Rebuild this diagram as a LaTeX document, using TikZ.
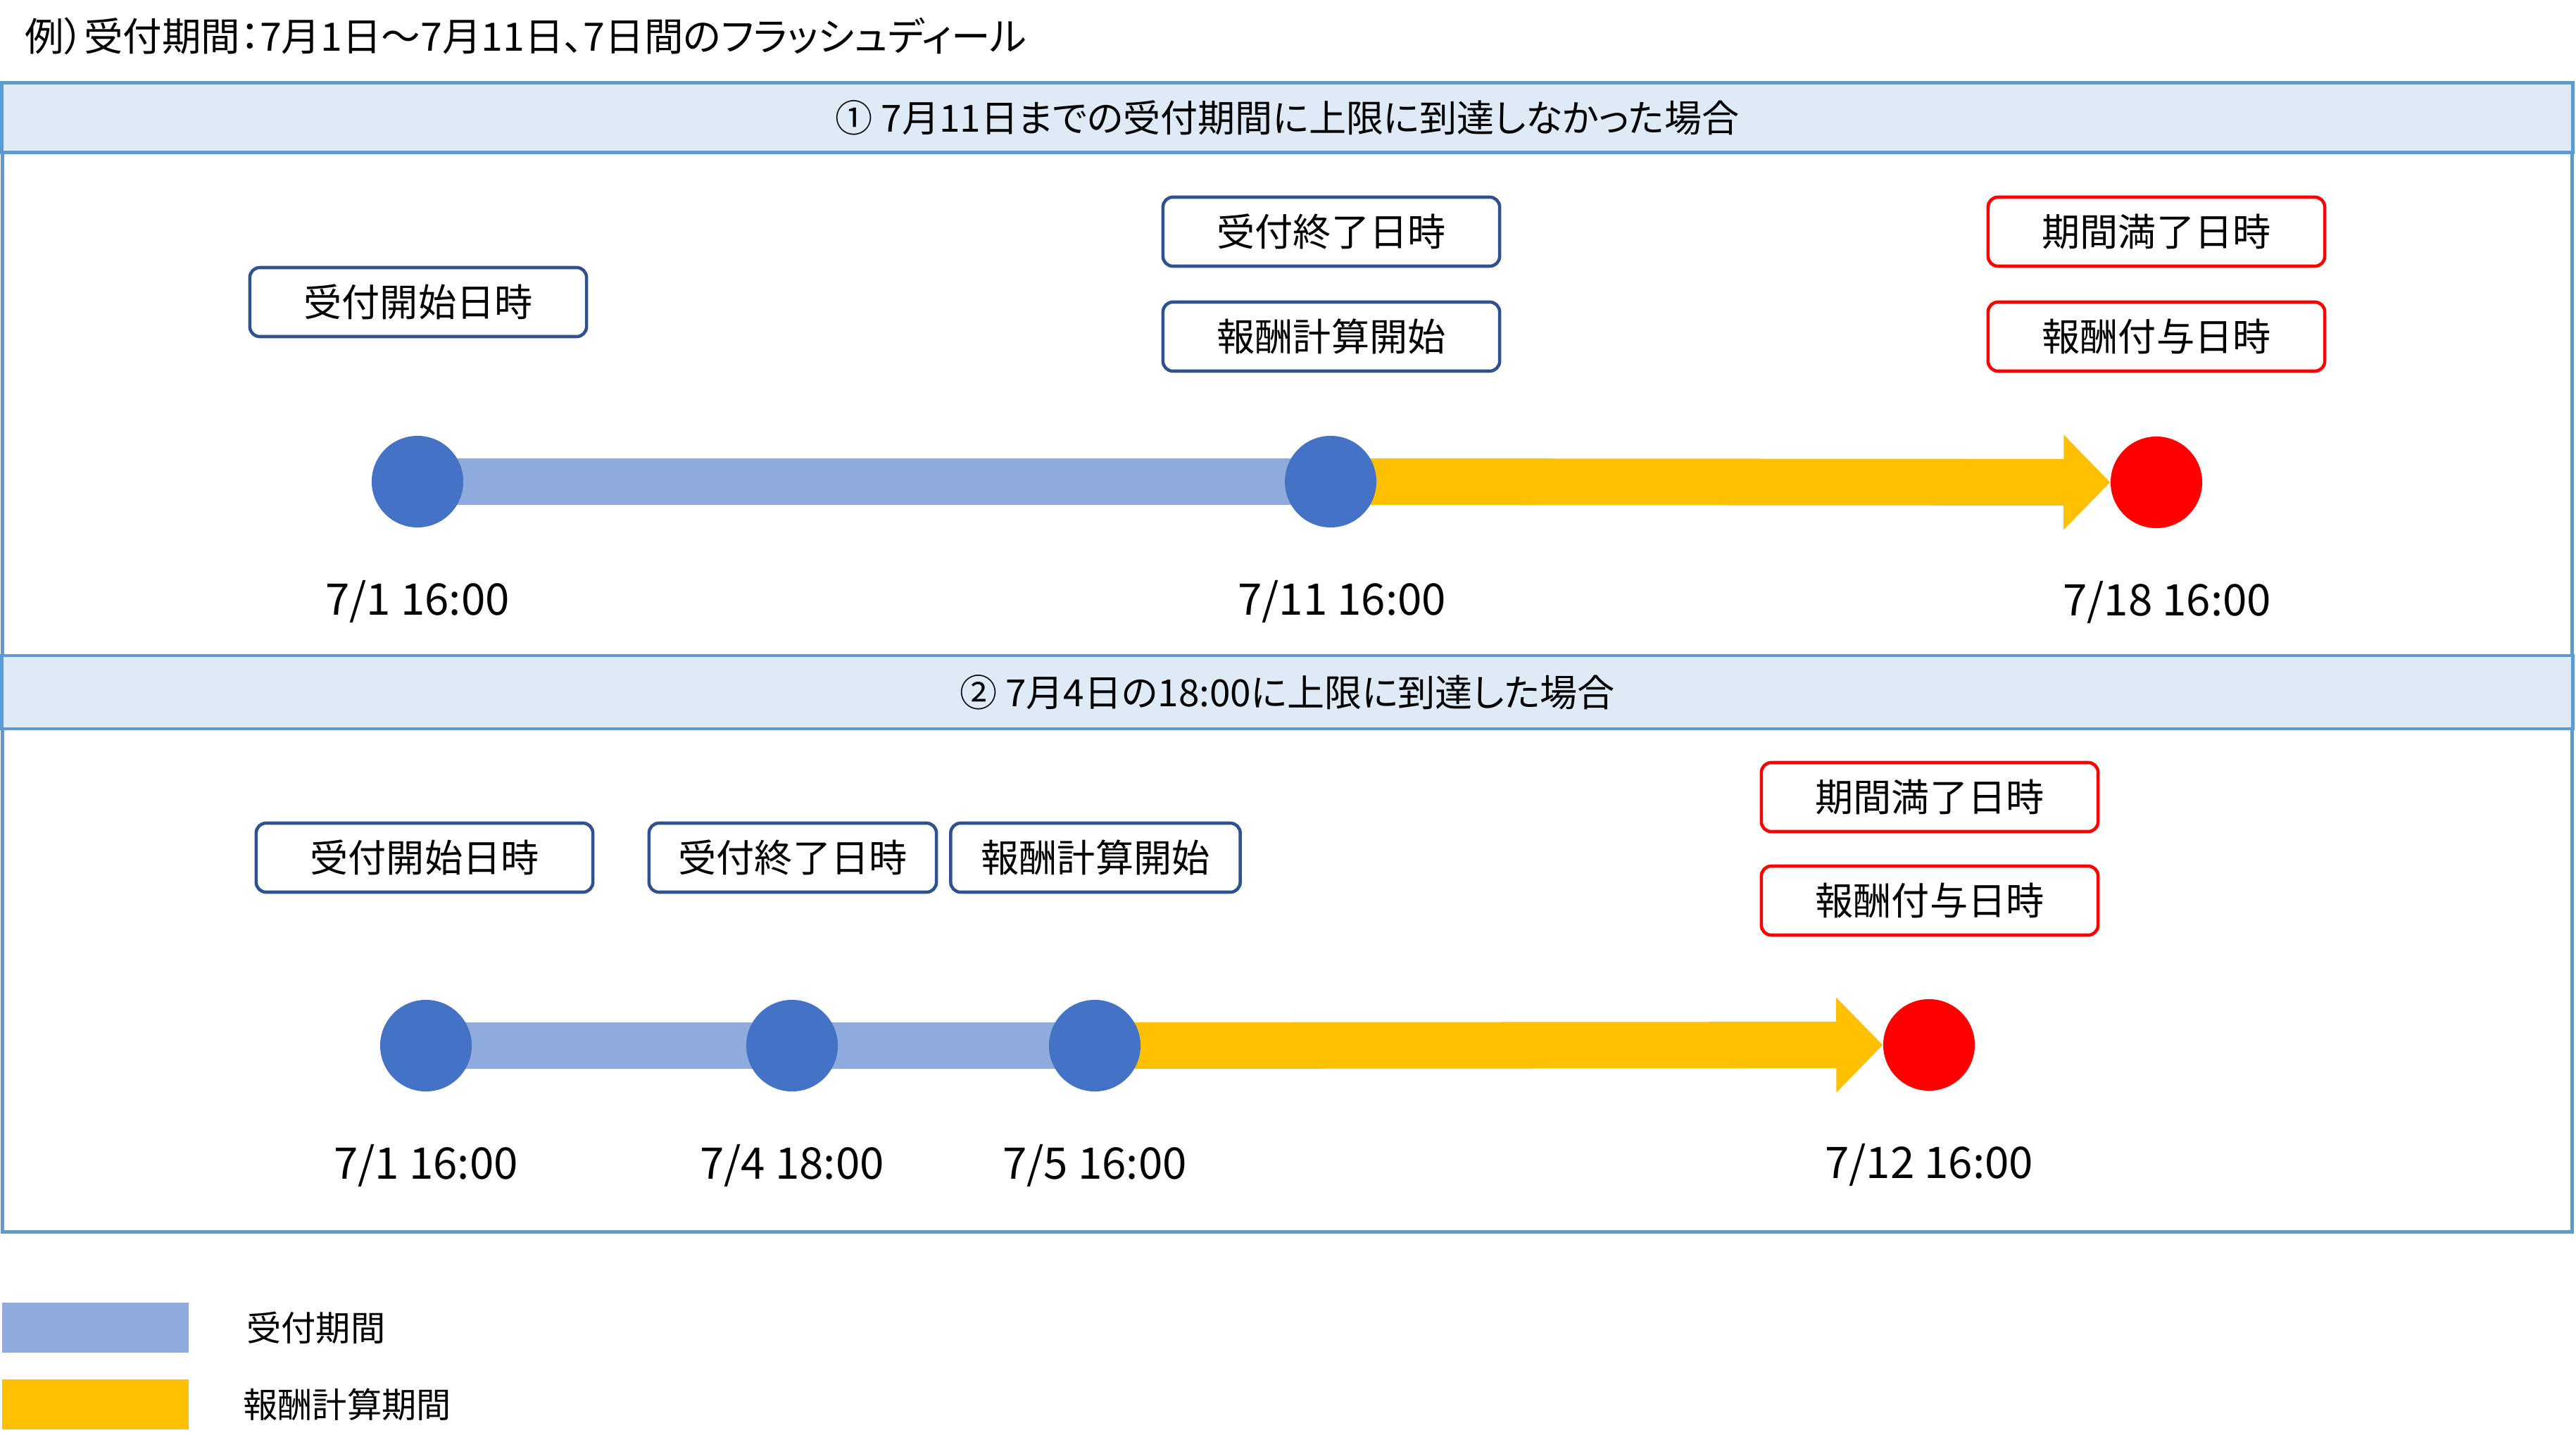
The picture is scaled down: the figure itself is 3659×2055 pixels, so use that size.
\documentclass[tikz,border=0pt]{standalone}
\usepackage{fontspec}
\setmainfont{Noto Sans CJK JP}[RawFeature=+palt]
\usetikzlibrary{arrows.meta, positioning}
\definecolor{framebl}{HTML}{5B9BD5}
\definecolor{headbg}{HTML}{DEEBF7}
\definecolor{dotblue}{HTML}{4472C4}
\definecolor{barblue}{HTML}{8FAADC}
\definecolor{calcyel}{HTML}{FFC000}
\definecolor{boxline}{HTML}{2F528F}
\pgfdeclarelayer{bg}
\pgfsetlayers{bg,main}
\tikzstyle{event} = [rectangle, rounded corners=4pt, draw=boxline, line width=1.3pt, fill=white, minimum width=4.78cm, minimum height=0.98cm, font=\fontsize{15.4}{18}\selectfont]
\tikzstyle{endevent} = [event, draw=red]
\tikzstyle{dot} = [circle, fill=dotblue, minimum size=1.3cm, inner sep=0pt]
\tikzstyle{enddot} = [dot, fill=red]
\tikzstyle{stamp} = [font=\fontsize{17.6}{20}\selectfont]
\tikzstyle{band} = [rectangle, draw=framebl, line width=1.3pt, fill=headbg, minimum width=36.5cm, font=\fontsize{15.1}{18}\selectfont]
\tikzstyle{accept} = [line width=0.65cm, draw=barblue]
\tikzstyle{calc} = [line width=0.66cm, draw=calcyel, -{Triangle[length=0.66cm, width=1.31cm]}]
\tikzstyle{swatch} = [rectangle, minimum width=2.65cm, minimum height=0.71cm, inner sep=0pt]

\begin{document}
\begin{tikzpicture}[x=0.01cm, y=-0.01cm, node distance=1.7cm]
        \useasboundingbox (0,0) rectangle (3659,2055);
        \node[anchor=west, inner sep=0pt, font=\fontsize{15.8}{19}\selectfont] (title) at (35,51) {例）受付期間：7月1日〜7月11日、7日間のフラッシュディール};

        % frame and headers
        \draw[draw=framebl, line width=1.3pt] (3.5,117.5) rectangle (3653.5,1749.5);
        \node[band, minimum height=0.99cm] (head1) at (1828.5,167) {① 7月11日までの受付期間に上限に到達しなかった場合};
        \node[band, minimum height=1.04cm] (head2) at (1828.5,983) {② 7月4日の18:00に上限に到達した場合};

        % case 1
        \node[event] (start1) at (594,429) {受付開始日時};
        \node[event] (close1) at (1891,329) {受付終了日時};
        \node[event] (calc1) at (1891,478) {報酬計算開始};
        \node[endevent] (expire1) at (3063,329) {期間満了日時};
        \node[endevent] (grant1) at (3063,478) {報酬付与日時};
        \node[dot] (a1) at (593,684) {};
        \node[dot] (a2) at (1890,684) {};
        \node[enddot] (r1) at (3063,685) {};
        \node[stamp, below of=a1] (d11) {7/1 16:00};
        \node[stamp, below of=a2, xshift=0.16cm] (d12) {7/11 16:00};
        \node[stamp, below of=r1, xshift=0.15cm] (d13) {7/18 16:00};
        \begin{pgfonlayer}{bg}
            \draw[accept] (a1.center) -- (a2.center);
            \draw[calc] (a2.center) -- (r1);
        \end{pgfonlayer}

        % case 2
        \node[event] (start2) at (603,1218) {受付開始日時};
        \node[event, minimum width=4.08cm] (close2) at (1126,1218) {受付終了日時};
        \node[event, minimum width=4.11cm] (calc2) at (1556,1218) {報酬計算開始};
        \node[endevent] (expire2) at (2741,1132) {期間満了日時};
        \node[endevent] (grant2) at (2741,1279) {報酬付与日時};
        \node[dot] (b1) at (605,1485) {};
        \node[dot] (b2) at (1125,1485) {};
        \node[dot] (b3) at (1555,1485) {};
        \node[enddot] (r2) at (2740,1484) {};
        \node[stamp, below of=b1] (d21) {7/1 16:00};
        \node[stamp, below of=b2] (d22) {7/4 18:00};
        \node[stamp, below of=b3] (d23) {7/5 16:00};
        \node[stamp, below of=r2] (d24) {7/12 16:00};
        \begin{pgfonlayer}{bg}
            \draw[accept] (b1.center) -- (b3.center);
            \draw[calc] (b3.center) -- (r2);
        \end{pgfonlayer}

        % legend
        \node[swatch, fill=barblue] (key1) at (135.5,1885.5) {};
        \node[swatch, fill=calcyel] (key2) at (135.5,1994.5) {};
        \node[right=0.81cm of key1, inner sep=0pt, font=\fontsize{14}{17}\selectfont] (keytext1) {受付期間};
        \node[right=0.76cm of key2, inner sep=0pt, font=\fontsize{14}{17}\selectfont] (keytext2) {報酬計算期間};
    \end{tikzpicture}
\end{document}
